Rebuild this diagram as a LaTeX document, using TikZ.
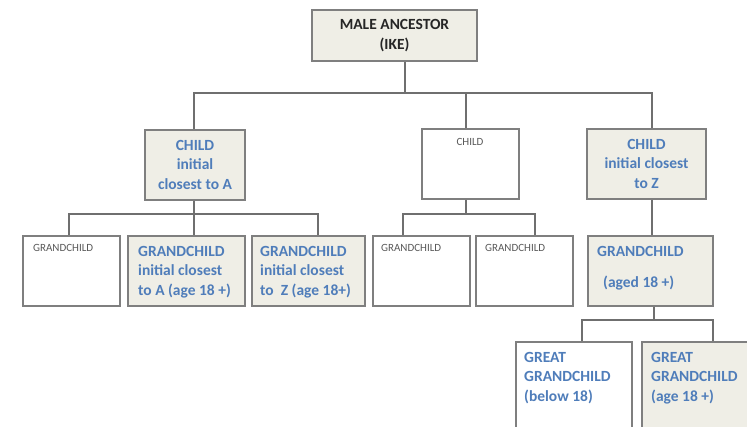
\documentclass[tikz,border=0pt]{standalone}
\usepackage{fontspec}
\setmainfont{Carlito}
\definecolor{shade}{HTML}{EFEEE6}
\definecolor{edge}{HTML}{7F7F7F}
\definecolor{conncol}{HTML}{6F6F6F}
\definecolor{bluetxt}{HTML}{4F7DBA}
\definecolor{graytxt}{HTML}{595959}
\definecolor{darktxt}{HTML}{262626}
\begin{document}
\begin{tikzpicture}[x=1pt,y=-1pt,
  boxbase/.style={draw=edge, line width=1.3pt, rectangle, inner sep=0pt},
  shbox/.style={boxbase, fill=shade},
  wbox/.style={boxbase, fill=white},
  conn/.style={draw=conncol, line width=1.2pt},
  bigtxt/.style={inner sep=0pt, font=\fontsize{15.5}{19.5}\selectfont\bfseries, text=bluetxt},
  smalltxt/.style={inner sep=0pt, font=\fontsize{11}{13}\selectfont, text=graytxt},
  toptxt/.style={inner sep=0pt, font=\fontsize{15.5}{20.5}\selectfont\bfseries, text=darktxt}]
\useasboundingbox (0,0) rectangle (747,427);
\clip (0,0) rectangle (747,427);
% boxes
\node[shbox, minimum width=165pt, minimum height=51pt] (top) at (394.5,35.5) {};
\node[shbox, minimum width=100pt, minimum height=70pt] (cA) at (195,165) {};
\node[wbox, minimum width=97pt, minimum height=70pt] (cM) at (470.5,164) {};
\node[shbox, minimum width=119pt, minimum height=70pt] (cZ) at (646.5,164) {};
\node[wbox, minimum width=97pt, minimum height=70pt] (g1) at (71.5,271) {};
\node[shbox, minimum width=117pt, minimum height=70pt] (g2) at (186.5,271) {};
\node[shbox, minimum width=113pt, minimum height=70pt] (g3) at (308.5,271) {};
\node[wbox, minimum width=97pt, minimum height=70pt] (g4) at (421.5,271) {};
\node[wbox, minimum width=97pt, minimum height=70pt] (g5) at (524.5,271) {};
\node[shbox, minimum width=125pt, minimum height=70pt] (g6) at (650.5,271) {};
\node[wbox, minimum width=116pt, minimum height=98pt] (gg1) at (574,391) {};
\node[shbox, minimum width=118pt, minimum height=98pt] (gg2) at (701,391) {};
% texts
\node[toptxt, align=center, anchor=north] (topT) at (394.5,19) {MALE ANCESTOR\\(IKE)};
\node[bigtxt, align=center, anchor=north] (cAT) at (195,140) {CHILD\\initial\\closest to A};
\node[smalltxt, anchor=north] (cMT) at (470,138.6) {CHILD};
\node[bigtxt, align=center, anchor=north] (cZT) at (646.5,139) {CHILD\\initial closest\\to Z};
\node[smalltxt, anchor=north west] (g1T) at (33,244.6) {GRANDCHILD};
\node[bigtxt, align=left, anchor=north west] (g2T) at (138,246) {GRANDCHILD\\initial closest\\to A (age 18 +)};
\node[bigtxt, align=left, anchor=north west] (g3T) at (260,246) {GRANDCHILD\\initial closest\\to\ \ Z (age 18+)};
\node[smalltxt, anchor=north west] (g4T) at (381,244.6) {GRANDCHILD};
\node[smalltxt, anchor=north west] (g5T) at (485,244.6) {GRANDCHILD};
\node[bigtxt, align=left, anchor=north west] (g6T) at (597,246) {GRANDCHILD\\[11.5pt]\hspace*{6pt}(aged 18 +)};
\node[bigtxt, align=left, anchor=north west] (gg1T) at (524,352) {GREAT\\GRANDCHILD\\(below 18)};
\node[bigtxt, align=left, anchor=north west] (gg2T) at (651,352) {GREAT\\GRANDCHILD\\(age 18 +)};
% junctions
\coordinate (j0) at (405,93);
\coordinate (j1) at (194,214);
\coordinate (j2) at (466,214);
\coordinate (j3) at (654,320);
% connectors
\draw[conn] (top.south -| j0) -- (j0);
\draw[conn] ([xshift=-1pt]cA.north) |- (j0) -| ([xshift=5.5pt]cZ.north);
\draw[conn] ([xshift=-4.5pt]cM.north) -- ([xshift=-4.5pt]cM.north |- j0);
\draw[conn] (cA.south -| j1) -- (j1);
\draw[conn] ([xshift=-2.5pt]g1.north) |- (j1) -| ([xshift=9.5pt]g3.north);
\draw[conn] (j1) -- (g2.north -| j1);
\draw[conn] (cM.south -| j2) -- (j2);
\draw[conn] ([xshift=-18.5pt]g4.north) |- (j2) -| ([xshift=10.5pt]g5.north);
\draw[conn] ([xshift=5.5pt]cZ.south) -- ([xshift=1.5pt]g6.north);
\draw[conn] (g6.south -| j3) -- (j3);
\draw[conn] ([xshift=8pt]gg1.north) |- (j3) -| ([xshift=12pt]gg2.north);
\end{tikzpicture}
\end{document}
